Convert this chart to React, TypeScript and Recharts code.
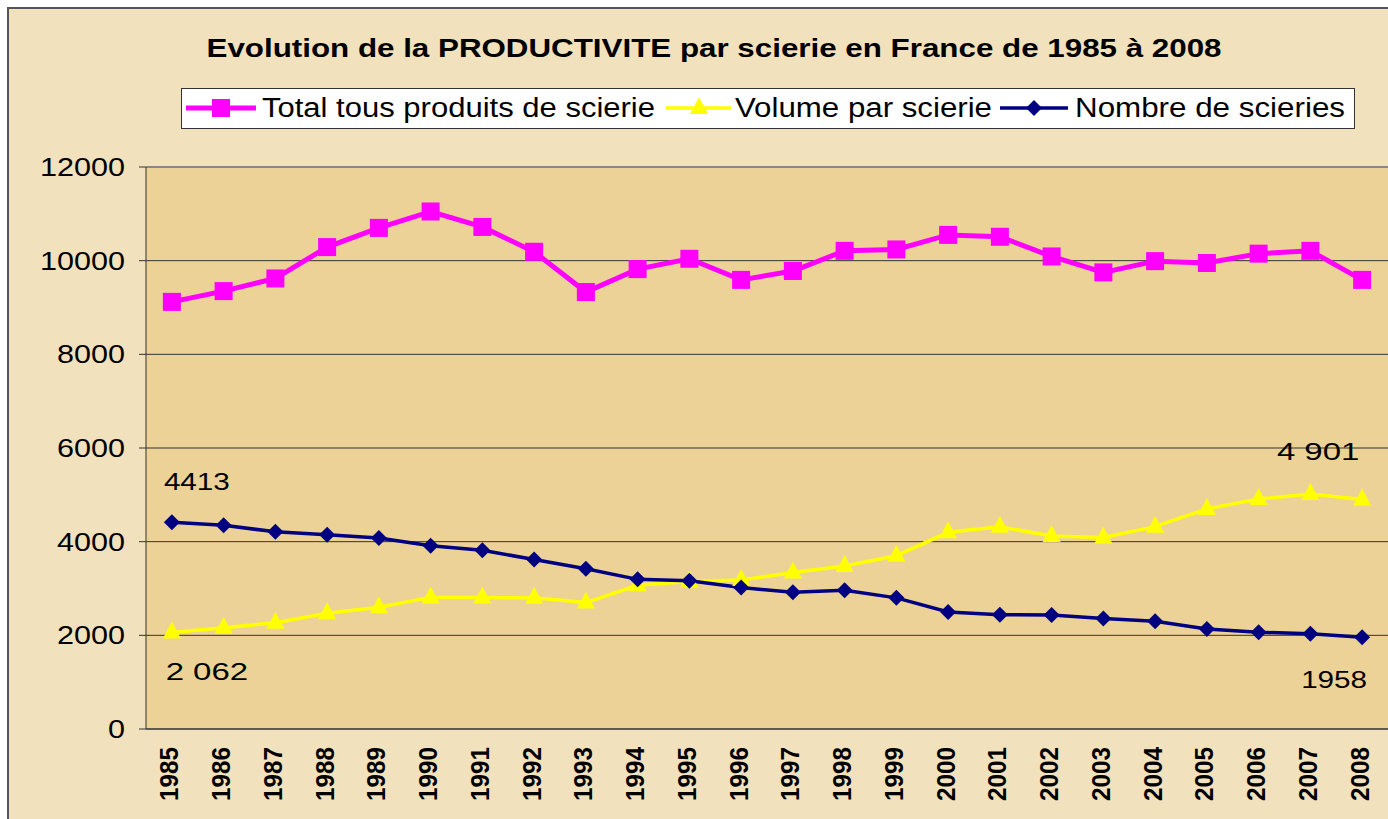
import React from "react";
import { CartesianGrid, LabelList, Line, LineChart, ReferenceLine, XAxis, YAxis } from "recharts";

const years = [1985, 1986, 1987, 1988, 1989, 1990, 1991, 1992, 1993, 1994, 1995, 1996, 1997, 1998, 1999, 2000, 2001, 2002, 2003, 2004, 2005, 2006, 2007, 2008];
const total = [9120, 9350, 9620, 10290, 10700, 11050, 10720, 10190, 9330, 9820, 10040, 9590, 9780, 10210, 10240, 10550, 10510, 10090, 9750, 9990, 9950, 10150, 10210, 9590];
const volume = [2062, 2160, 2270, 2470, 2600, 2810, 2810, 2800, 2700, 3070, 3150, 3180, 3340, 3480, 3700, 4200, 4320, 4120, 4090, 4320, 4700, 4910, 5020, 4901];
const nombre = [4413, 4350, 4210, 4150, 4080, 3915, 3815, 3620, 3420, 3195, 3165, 3020, 2920, 2960, 2800, 2500, 2440, 2435, 2360, 2300, 2135, 2065, 2035, 1958];
const yTicks = [0, 2000, 4000, 6000, 8000, 10000, 12000];

const TITLE = "Evolution de la PRODUCTIVITE par scierie en France de 1985 à 2008";
const LEGEND = ["Total tous produits de scierie", "Volume par scierie", "Nombre de scieries"];

const PINK = "#ff00ff";
const YELLOW = "#ffff00";
const NAVY = "#000080";
const FONT = "'Liberation Sans', Arial, sans-serif";

const data = years.map((year, i) => ({ year, total: total[i], volume: volume[i], nombre: nombre[i] }));
const bounds = [...years.map((y) => y - 0.5), years[years.length - 1] + 0.5];
const last = years.length - 1;

const SquareDot = ({ cx, cy }: any) => <rect x={cx - 9} y={cy - 9} width={18} height={18} fill={PINK} />;
const TriangleDot = ({ cx, cy }: any) => (
  <polygon points={`${cx},${cy - 11} ${cx + 9},${cy + 6} ${cx - 9},${cy + 6}`} fill={YELLOW} />
);
const DiamondDot = ({ cx, cy }: any) => (
  <polygon points={`${cx},${cy - 8} ${cx + 8},${cy} ${cx},${cy + 8} ${cx - 8},${cy}`} fill={NAVY} />
);

const YTick = ({ x, y, payload }: any) => {
  const s = String(payload.value);
  return (
    <text x={x} y={y} dy="0.36em" textAnchor="end" fontFamily={FONT} fontSize={25} fill="#000"
      textLength={17 * s.length} lengthAdjust="spacingAndGlyphs">
      {s}
    </text>
  );
};

const YearTick = ({ x, y, payload }: any) => (
  <text transform={`translate(${x - 3},${y + 9}) rotate(-90)`} dy="0.36em" textAnchor="end"
    fontFamily={FONT} fontSize={26} fontWeight="bold" fill="#000" textLength={54} lengthAdjust="spacingAndGlyphs">
    {payload.value}
  </text>
);

const endLabel = (fmt: (v: number) => string, first: [number, number], end: [number, number]) =>
  (props: any) => {
    const { x, y, value, index } = props;
    if (index !== 0 && index !== last) return null;
    const [dx, dy] = index === 0 ? first : end;
    const s = fmt(Number(value));
    return (
      <text x={x + dx} y={y + dy} textAnchor="middle" fontFamily={FONT} fontSize={23} fill="#000"
        textLength={s.length * 16.5} lengthAdjust="spacingAndGlyphs">
        {s}
      </text>
    );
  };

const spaced = (v: number) => v.toLocaleString("fr-FR").replace(/\s/g, " ");

function Overlay() {
  return (
    <svg width={1388} height={140} style={{ position: "absolute", left: 0, top: 0, pointerEvents: "none" }}>
      <text x={714} y={57} textAnchor="middle" fontFamily={FONT} fontSize={26} fontWeight="bold" fill="#000"
        textLength={1015} lengthAdjust="spacingAndGlyphs">
        {TITLE}
      </text>
      <rect x={181.5} y={88.5} width={1173} height={40} fill="#fff" stroke="#333" />
      <line x1={186} y1={108} x2={256} y2={108} stroke={PINK} strokeWidth={5} />
      <rect x={212} y={99} width={18} height={18} fill={PINK} />
      <text x={262} y={117} fontFamily={FONT} fontSize={27} textLength={393} lengthAdjust="spacingAndGlyphs">{LEGEND[0]}</text>
      <line x1={666} y1={108} x2={731} y2={108} stroke={YELLOW} strokeWidth={3.5} />
      <polygon points="699,97 708,114 690,114" fill={YELLOW} />
      <text x={735} y={117} fontFamily={FONT} fontSize={27} textLength={257} lengthAdjust="spacingAndGlyphs">{LEGEND[1]}</text>
      <line x1={1000} y1={108} x2={1068} y2={108} stroke={NAVY} strokeWidth={3.5} />
      <polygon points="1034,100 1042,108 1034,116 1026,108" fill={NAVY} />
      <text x={1075} y={117} fontFamily={FONT} fontSize={27} textLength={270} lengthAdjust="spacingAndGlyphs">{LEGEND[2]}</text>
    </svg>
  );
}

export default function App() {
  return (
    <div style={{ position: "absolute", left: 0, top: 0, width: 1388, height: 819, background: "#fff", overflow: "hidden" }}>
      <div style={{ position: "absolute", left: 7, top: 7, width: 1381, height: 812, background: "#f1e1bd",
        borderLeft: "2px solid #555", borderTop: "2px solid #555", boxSizing: "border-box" }} />
      <div style={{ position: "absolute", left: 0, top: 0 }}>
        <LineChart width={1388} height={819} data={data} margin={{ top: 167, right: 0, bottom: 0, left: 0 }}>
          <CartesianGrid vertical={false} stroke="#333" fill="#ecd296" fillOpacity={1} />
          <XAxis xAxisId="bounds" type="number" dataKey="year" domain={[1984.5, 2008.5]} ticks={bounds}
            interval={0} height={1} tick={false} tickSize={7} stroke="#333" />
          <XAxis xAxisId="years" type="number" dataKey="year" domain={[1984.5, 2008.5]} ticks={years}
            interval={0} height={89} axisLine={false} tickLine={false} tick={<YearTick />} />
          <YAxis domain={[0, 12000]} ticks={yTicks} interval={0} width={146} tickSize={7} tickMargin={14}
            stroke="#333" tick={<YTick />} />
          <ReferenceLine y={12000} xAxisId="years" stroke="#888" strokeWidth={2} />
          <Line xAxisId="years" dataKey="total" stroke={PINK} strokeWidth={5} dot={<SquareDot />} isAnimationActive={false} />
          <Line xAxisId="years" dataKey="volume" stroke={YELLOW} strokeWidth={3.5} dot={<TriangleDot />} isAnimationActive={false}>
            <LabelList dataKey="volume" content={endLabel(spaced, [35, 48], [-44, -39])} />
          </Line>
          <Line xAxisId="years" dataKey="nombre" stroke={NAVY} strokeWidth={3.5} dot={<DiamondDot />} isAnimationActive={false}>
            <LabelList dataKey="nombre" content={endLabel((v) => String(v), [25, -32], [-28, 51])} />
          </Line>
        </LineChart>
      </div>
      <Overlay />
    </div>
  );
}
